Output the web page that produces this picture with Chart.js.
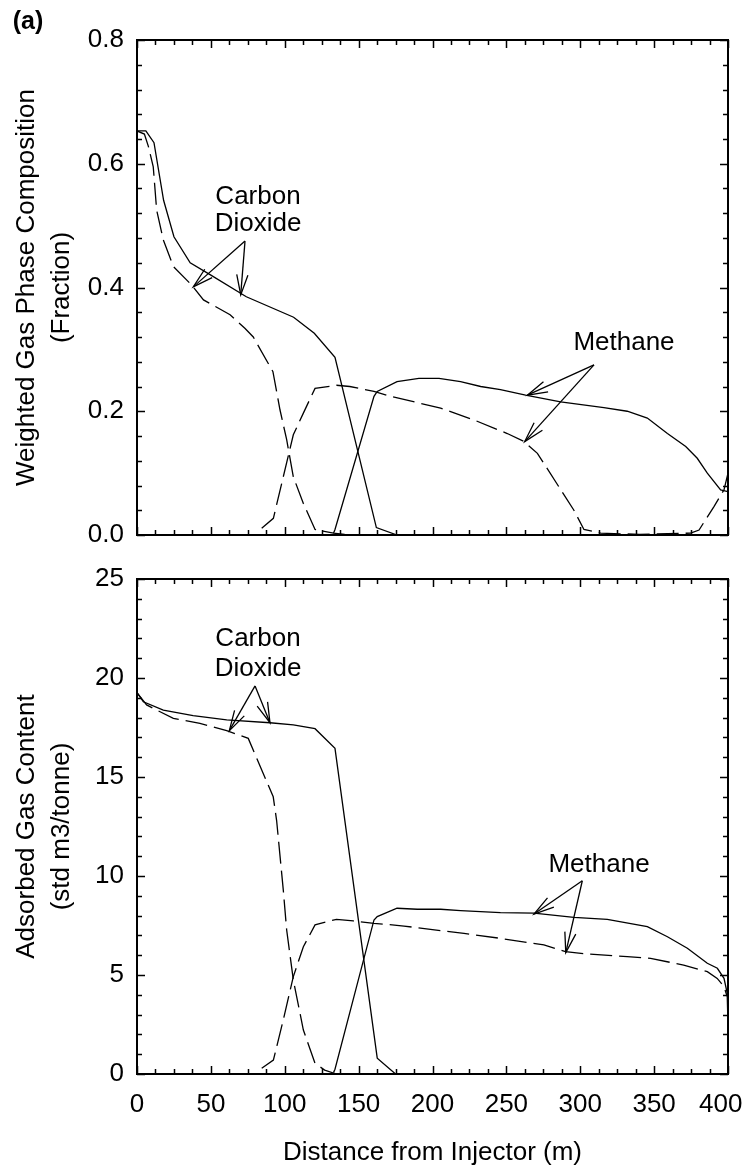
<!DOCTYPE html>
<html><head><meta charset="utf-8">
<script src="https://cdn.jsdelivr.net/npm/chart.js@4"></script>
<style>
html,body{margin:0;padding:0;background:#fff;overflow:hidden;width:748px;height:1168px}
canvas{position:absolute;left:0;display:block}
#c1{top:0}
#c2{top:560px}
</style></head><body>
<canvas id="c1" width="748" height="560"></canvas>
<canvas id="c2" width="748" height="608"></canvas>
<script>
// ---------- tick labels ----------
const distTicks = [0, 50, 100, 150, 200, 250, 300, 350, 400];
const fracTicks = [0, 0.2, 0.4, 0.6, 0.8];
const contentTicks = [0, 5, 10, 15, 20, 25];

// ---------- (top) weighted gas phase composition ----------
const gasCO2SolidDist = [0, 6, 11.5, 18, 25, 36, 50, 74, 106, 120, 134, 162, 176];
const gasCO2SolidVal  = [0.653, 0.653, 0.634, 0.541, 0.482, 0.44, 0.42, 0.385, 0.352, 0.326, 0.287, 0.012, 0];

const gasCO2DashDist = [0, 5, 7.7, 11, 13.3, 17.8, 24.6, 37, 45, 63, 73, 78.7, 92, 96.8, 101.3, 105.8, 112.6, 120.5, 133, 145];
const gasCO2DashVal  = [0.653, 0.648, 0.628, 0.595, 0.525, 0.477, 0.434, 0.404, 0.38, 0.356, 0.334, 0.32, 0.264, 0.202, 0.154, 0.094, 0.051, 0.009, 0.003, 0];

const gasCH4DashDist = [84.4, 92.3, 99, 105.8, 112.6, 120.5, 135, 144, 160.4, 170.5, 205.5, 228, 250.6, 262, 271, 295.7, 302.5, 313.8, 340, 374.7, 380.4, 390.5, 397.3, 400];
const gasCH4DashVal  = [0.011, 0.027, 0.094, 0.162, 0.197, 0.237, 0.242, 0.24, 0.232, 0.225, 0.205, 0.186, 0.164, 0.151, 0.132, 0.04, 0.009, 0.003, 0.001, 0.003, 0.008, 0.046, 0.073, 0.1];

const gasCH4SolidDist = [133, 134, 160.4, 162.6, 176, 190.8, 204.4, 219, 232.6, 246, 263, 286.7, 316, 331.8, 345.4, 359, 371.4, 379.2, 386, 395, 400];
const gasCH4SolidVal  = [0.003, 0.009, 0.224, 0.232, 0.248, 0.253, 0.253, 0.248, 0.24, 0.235, 0.226, 0.215, 0.206, 0.2, 0.189, 0.164, 0.143, 0.124, 0.1, 0.073, 0.07];

// ---------- (bottom) adsorbed gas content ----------
const adsCO2SolidDist = [0, 4.3, 17.8, 38, 60.7, 90, 105.8, 120.5, 134, 162.6, 175];
const adsCO2SolidVal  = [19.26, 18.8, 18.38, 18.1, 17.88, 17.74, 17.63, 17.44, 16.45, 0.8, 0];

const adsCO2DashDist = [0, 6.5, 24.6, 42.6, 60.7, 75.3, 92.2, 94.5, 99, 101.3, 105.8, 112.6, 120.5, 127, 135];
const adsCO2DashVal  = [19.26, 18.64, 17.96, 17.71, 17.34, 16.95, 14.0, 12.8, 9.3, 7.27, 4.75, 2.22, 0.54, 0.2, 0];

const adsCH4DashDist = [84.4, 92.3, 99, 105.8, 112.6, 120.5, 135, 146.4, 160.4, 168.3, 180.7, 221.3, 246, 275.4, 290, 304.8, 331.8, 347.6, 370, 386, 392.7, 397.3, 399.5, 400];
const adsCH4DashVal  = [0.29, 0.7, 2.73, 4.92, 6.43, 7.53, 7.81, 7.73, 7.61, 7.56, 7.47, 7.1, 6.85, 6.52, 6.18, 6.06, 5.93, 5.84, 5.5, 5.17, 4.83, 4.41, 3.9, 2.5];

const adsCH4SolidDist = [133, 134, 160.4, 162.6, 176, 189.7, 205.5, 219, 246, 268.7, 295.7, 318.3, 345.4, 359, 372.5, 386, 392.8, 397.3, 400, 400];
const adsCH4SolidVal  = [0.07, 0.24, 7.78, 7.95, 8.37, 8.32, 8.32, 8.25, 8.15, 8.12, 7.91, 7.81, 7.44, 6.93, 6.35, 5.59, 5.34, 4.83, 3.9, 1.5];

// ---------- text ----------
const panelLabel = '(a)';
const xTitle = 'Distance from Injector (m)';
const topYTitle = ['Weighted Gas Phase Composition', '(Fraction)'];
const botYTitle = ['Adsorbed Gas Content', '(std m3/tonne)'];

const FONT = "'Liberation Sans', Arial, Helvetica, sans-serif";
const FS = 26;
Chart.defaults.font.family = FONT;
Chart.defaults.color = '#000';

function pts(xs, ys) { return xs.map((x, i) => ({x: x, y: ys[i]})); }
function ds(xs, ys, dashed) {
  return {data: pts(xs, ys), borderColor: '#000', borderWidth: 1.3, pointRadius: 0,
          borderDash: dashed ? [22, 7] : [], tension: 0, fill: false};
}

function drawArrow(ctx, x0, y0, x1, y1) {
  ctx.beginPath(); ctx.moveTo(x0, y0); ctx.lineTo(x1, y1); ctx.stroke();
  const ang = Math.atan2(y1 - y0, x1 - x0), L = 21, h = 0.27;
  ctx.beginPath();
  ctx.moveTo(x1 - L * Math.cos(ang - h), y1 - L * Math.sin(ang - h));
  ctx.lineTo(x1, y1);
  ctx.lineTo(x1 - L * Math.cos(ang + h), y1 - L * Math.sin(ang + h));
  ctx.stroke();
}

const framePlugin = {
  id: 'frame',
  afterDatasetsDraw(chart, args, o) {
    const ctx = chart.ctx, a = chart.chartArea, xs = chart.scales.x, ys = chart.scales.y;
    ctx.save();
    ctx.strokeStyle = '#000';
    ctx.lineWidth = 1.5;
    ctx.setLineDash([]);
    // x ticks (bottom and top), minor every 12.5
    for (let i = 0; i <= 32; i++) {
      const px = Math.round(xs.getPixelForValue(i * 12.5)) + 0.5;
      const len = (i % 4 === 0) ? 8 : 5;
      ctx.beginPath();
      ctx.moveTo(px, a.bottom); ctx.lineTo(px, a.bottom - len);
      ctx.moveTo(px, a.top); ctx.lineTo(px, a.top + len);
      ctx.stroke();
    }
    for (let i = 0; i <= o.yCount; i++) {
      const py = Math.round(ys.getPixelForValue(i * o.yMinor)) + 0.5;
      const len = (i % o.yMajorEvery === 0) ? 8 : 5;
      ctx.beginPath();
      ctx.moveTo(a.left, py); ctx.lineTo(a.left + len, py);
      ctx.moveTo(a.right, py); ctx.lineTo(a.right - len, py);
      ctx.stroke();
    }
    ctx.lineWidth = 2;
    ctx.strokeRect(a.left, a.top, a.right - a.left, a.bottom - a.top);
    // annotations
    ctx.lineWidth = 1.3;
    ctx.fillStyle = '#000';
    ctx.font = FS + 'px ' + FONT;
    ctx.textAlign = 'center';
    ctx.textBaseline = 'middle';
    (o.notes || []).forEach(n => {
      const cx = xs.getPixelForValue(n.x), cy = ys.getPixelForValue(n.y);
      const gap = n.gap || 28;
      n.lines.forEach((t, k) => {
        ctx.fillText(t, cx, cy + (k - (n.lines.length - 1) / 2) * gap);
      });
      const sx = xs.getPixelForValue(n.from[0]), sy = ys.getPixelForValue(n.from[1]);
      n.to.forEach(p => drawArrow(ctx, sx, sy, xs.getPixelForValue(p[0]), ys.getPixelForValue(p[1])));
    });
    if (o.panel) {
      ctx.font = 'bold 25px ' + FONT;
      ctx.fillText(o.panel, 28, 22);
    }
    ctx.restore();
  }
};

function baseOptions(yMin, yMax, yStep, yTitle, fmt, showX, frameOpts, padding, xHeight) {
  return {
    responsive: false, animation: false, devicePixelRatio: 1,
    layout: {padding: padding},
    plugins: {legend: {display: false}, tooltip: {enabled: false}, frame: frameOpts},
    scales: {
      x: {
        type: 'linear', position: 'bottom', min: 0, max: 400,
        grid: {display: false, drawTicks: false}, border: {display: false},
        afterBuildTicks: s => { s.ticks = distTicks.map(v => ({value: v})); },
        ticks: {display: showX, autoSkip: false, maxRotation: 0, padding: 15,
                font: {size: FS}, color: '#000',
                // last label is pulled inward so it stays inside the page, as in the original
                callback: v => (v === 400 ? String(v) + '  ' : String(v))},
        title: {display: showX, text: xTitle, font: {size: FS}, color: '#000', padding: {top: 0, bottom: 0}},
        afterFit: s => { s.height = xHeight; s.paddingLeft = 0; s.paddingRight = 0; }
      },
      y: {
        type: 'linear', position: 'left', min: yMin, max: yMax,
        grid: {display: false, drawTicks: false}, border: {display: false},
        afterBuildTicks: s => { s.ticks = (yMax < 1 ? fracTicks : contentTicks).map(v => ({value: v})); },
        ticks: {padding: 13, font: {size: FS}, color: '#000', callback: fmt},
        title: {display: true, text: yTitle, font: {size: FS, lineHeight: 1.35}, color: '#000', padding: {top: 9.5, bottom: 0}},
        afterFit: s => { s.width = 137; s.paddingTop = 0; s.paddingBottom = 0; }
      }
    }
  };
}

new Chart(document.getElementById('c1'), {
  type: 'line',
  data: {datasets: [
    ds(gasCO2SolidDist, gasCO2SolidVal, false),
    ds(gasCO2DashDist, gasCO2DashVal, true),
    ds(gasCH4DashDist, gasCH4DashVal, true),
    ds(gasCH4SolidDist, gasCH4SolidVal, false)
  ]},
  options: baseOptions(0, 0.8, 0.2, topYTitle, v => Number(v).toFixed(1), false, {
    yMinor: 0.04, yCount: 20, yMajorEvery: 5, panel: panelLabel,
    notes: [
      {lines: ['Carbon', 'Dioxide'], x: 81.9, y: 0.525, gap: 27, from: [73.1, 0.475], to: [[38.1, 0.401], [70.2, 0.388]]},
      {lines: ['Methane'], x: 329.6, y: 0.31, from: [309.3, 0.275], to: [[264.2, 0.226], [262.4, 0.151]]}
    ]
  }, {left: 0, right: 20, top: 40, bottom: 25}, 0),
  plugins: [framePlugin]
});

new Chart(document.getElementById('c2'), {
  type: 'line',
  data: {datasets: [
    ds(adsCO2SolidDist, adsCO2SolidVal, false),
    ds(adsCO2DashDist, adsCO2DashVal, true),
    ds(adsCH4DashDist, adsCH4DashVal, true),
    ds(adsCH4SolidDist, adsCH4SolidVal, false)
  ]},
  options: baseOptions(0, 25, 5, botYTitle, v => String(v), true, {
    yMinor: 1, yCount: 25, yMajorEvery: 5,
    notes: [
      {lines: ['Carbon', 'Dioxide'], x: 81.9, y: 21.2, gap: 30, from: [79.9, 19.6], to: [[62.5, 17.34], [90, 17.74]]},
      {lines: ['Methane'], x: 312.7, y: 10.56, from: [301.4, 9.76], to: [[268.7, 8.08], [290.2, 6.13]]}
    ]
  }, {left: 0, right: 20, top: 19, bottom: 0}, 94),
  plugins: [framePlugin]
});
</script>
</body></html>
